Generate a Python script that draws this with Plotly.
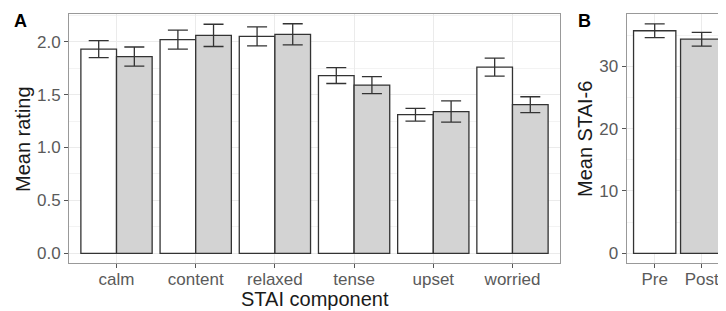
import plotly.graph_objects as go

# ---- data ----
components = ["calm", "content", "relaxed", "tense", "upset", "worried"]
pre_means = [1.93, 2.02, 2.05, 1.68, 1.31, 1.76]
pre_err = [0.08, 0.09, 0.09, 0.075, 0.06, 0.085]
post_means = [1.86, 2.06, 2.07, 1.59, 1.34, 1.405]
post_err = [0.09, 0.105, 0.10, 0.08, 0.10, 0.075]

sessions = ["Pre", "Post"]
stai6_means = [35.7, 34.35]
stai6_err = [1.1, 1.1]

OFF = 8  # page body margin
W, H = 726 - OFF, 311 - OFF
FONT = "Liberation Sans"
EDGE = "#333333"
PRE_COL = "#ffffff"
POST_COL = "#d3d3d3"

def px_x(p):
    return (p - OFF) / W

def px_y(p):
    return 1 - (p - OFF) / H

fig = go.Figure()

err_style = dict(type="data", thickness=1.3, width=10, color=EDGE)

fig.add_trace(go.Bar(
    x=components, y=pre_means, name="Pre",
    marker=dict(color=PRE_COL, line=dict(color=EDGE, width=1.3)),
    error_y=dict(array=pre_err, **err_style),
    xaxis="x", yaxis="y", showlegend=False,
))
fig.add_trace(go.Bar(
    x=components, y=post_means, name="Post",
    marker=dict(color=POST_COL, line=dict(color=EDGE, width=1.3)),
    error_y=dict(array=post_err, **err_style),
    xaxis="x", yaxis="y", showlegend=False,
))
fig.add_trace(go.Bar(
    x=sessions, y=stai6_means,
    marker=dict(color=[PRE_COL, POST_COL], line=dict(color=EDGE, width=1.3)),
    error_y=dict(array=stai6_err, **err_style),
    xaxis="x2", yaxis="y2", showlegend=False,
))

ydom = [px_y(263), px_y(14)]
grid = "#ebebeb"
tickfont = dict(family=FONT, size=17, color="#5a5a5a")
common_axis = dict(
    showline=True, linecolor="#999999", linewidth=1, mirror=True,
    ticks="outside", ticklen=4, tickcolor="#555555", tickwidth=1,
    tickfont=tickfont, gridcolor=grid, gridwidth=1, zeroline=False,
)

fig.update_layout(
    width=W, height=H,
    margin=dict(l=0, r=0, t=0, b=0),
    paper_bgcolor="white", plot_bgcolor="white",
    barmode="group", bargap=0.1, bargroupgap=0,
    font=dict(family=FONT),
    xaxis=dict(domain=[px_x(69), px_x(560)], range=[-0.6, 5.6], anchor="y",
               ticklabelstandoff=-3, **common_axis),
    yaxis=dict(domain=ydom, range=[-0.0917, 2.262], anchor="x",
               tickvals=[0, 0.5, 1.0, 1.5, 2.0], tickformat=".1f",
               minor=dict(tickvals=[0.25, 0.75, 1.25, 1.75, 2.25], showgrid=True,
                          gridcolor="#f3f3f3", gridwidth=0.6, ticks=""),
               **common_axis),
    xaxis2=dict(domain=[px_x(626.5), 1.0], range=[-0.6, 1.517], anchor="y2",
                ticklabelstandoff=-3, **common_axis),
    yaxis2=dict(domain=ydom, range=[-1.556, 38.39], anchor="x2",
                tickvals=[0, 10, 20, 30],
                minor=dict(tickvals=[5, 15, 25, 35], showgrid=True,
                           gridcolor="#f3f3f3", gridwidth=0.6, ticks=""),
                **common_axis),
)

title_font = dict(family=FONT, size=20, color="#1a1a1a")
ann = [
    dict(text="<b>A</b>", x=px_x(12), y=px_y(9), xanchor="left", yanchor="top",
         font=dict(family=FONT, size=18, color="black")),
    dict(text="<b>B</b>", x=px_x(576), y=px_y(9), xanchor="left", yanchor="top",
         font=dict(family=FONT, size=18, color="black")),
    dict(text="Mean rating", x=px_x(23), y=px_y(139), textangle=-90,
         xanchor="center", yanchor="middle", font=title_font),
    dict(text="Mean STAI-6", x=px_x(585), y=px_y(139), textangle=-90,
         xanchor="center", yanchor="middle", font=title_font),
    dict(text="STAI component", x=px_x(314.5), y=px_y(299),
         xanchor="center", yanchor="middle", font=title_font),
]
for a in ann:
    a.update(xref="paper", yref="paper", showarrow=False)
fig.update_layout(annotations=ann)

fig.write_html("out.html")
